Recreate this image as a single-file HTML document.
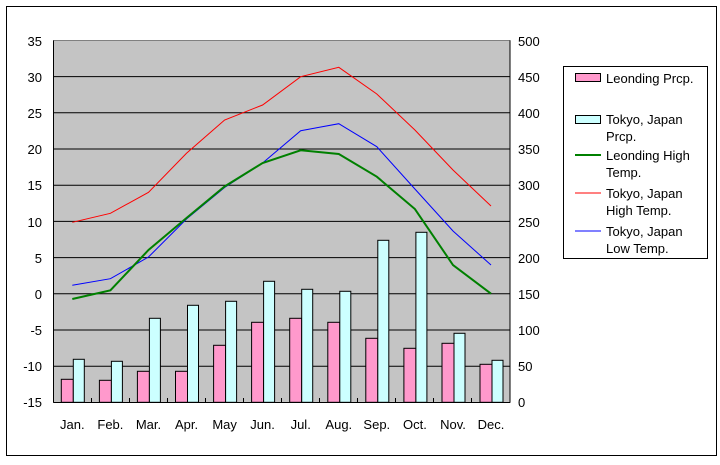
<!DOCTYPE html>
<html><head><meta charset="utf-8"><style>
body{margin:0;background:#fff;}
svg text{font-family:"Liberation Sans","Noto Sans CJK JP",sans-serif;font-size:13px;fill:#000;}
</style></head><body>
<svg width="720" height="460" viewBox="0 0 720 460" xmlns="http://www.w3.org/2000/svg">
<rect x="0" y="0" width="720" height="460" fill="#fff"/>
<rect x="6.5" y="6.5" width="710" height="449" fill="none" stroke="#000" stroke-width="1"/>
<rect x="53.5" y="40.5" width="456.5" height="362" fill="#c4c4c4" stroke="#808080"/>
<g stroke="#000" stroke-width="1">
<line x1="53.5" y1="76.6" x2="510" y2="76.6"/><line x1="53.5" y1="112.8" x2="510" y2="112.8"/>
<line x1="53.5" y1="149" x2="510" y2="149"/><line x1="53.5" y1="185.2" x2="510" y2="185.2"/>
<line x1="53.5" y1="221.4" x2="510" y2="221.4"/><line x1="53.5" y1="257.6" x2="510" y2="257.6"/>
<line x1="53.5" y1="293.8" x2="510" y2="293.8"/><line x1="53.5" y1="330" x2="510" y2="330"/>
<line x1="53.5" y1="366.2" x2="510" y2="366.2"/>
<line x1="53.5" y1="40.5" x2="53.5" y2="402.5"/><line x1="510" y1="40.5" x2="510" y2="402.5"/>
<line x1="53.5" y1="402.5" x2="510" y2="402.5"/>
<line x1="91.5" y1="398" x2="91.5" y2="402"/><line x1="129.5" y1="398" x2="129.5" y2="402"/>
<line x1="167.5" y1="398" x2="167.5" y2="402"/><line x1="205.5" y1="398" x2="205.5" y2="402"/>
<line x1="243.5" y1="398" x2="243.5" y2="402"/><line x1="281.5" y1="398" x2="281.5" y2="402"/>
<line x1="319.5" y1="398" x2="319.5" y2="402"/><line x1="357.5" y1="398" x2="357.5" y2="402"/>
<line x1="395.5" y1="398" x2="395.5" y2="402"/><line x1="433.5" y1="398" x2="433.5" y2="402"/>
<line x1="471.5" y1="398" x2="471.5" y2="402"/>
</g>
<g fill="#ff99cc" stroke="#000" stroke-width="1">
<rect x="61.3" y="379.3" width="12" height="23"/><rect x="99.4" y="380.3" width="12" height="22"/>
<rect x="137.4" y="371.3" width="12" height="31"/><rect x="175.5" y="371.3" width="12" height="31"/>
<rect x="213.6" y="345.3" width="12" height="57"/><rect x="251.6" y="322.3" width="12" height="80"/>
<rect x="289.7" y="318.3" width="12" height="84"/><rect x="327.8" y="322.3" width="12" height="80"/>
<rect x="365.8" y="338.3" width="12" height="64"/><rect x="403.9" y="348.3" width="12" height="54"/>
<rect x="442" y="343.3" width="12" height="59"/><rect x="480" y="364.3" width="12" height="38"/>
</g>
<g fill="#ccffff" stroke="#000" stroke-width="1">
<rect x="73.3" y="359.3" width="11" height="43"/><rect x="111.4" y="361.3" width="11" height="41"/>
<rect x="149.4" y="318.3" width="11" height="84"/><rect x="187.5" y="305.3" width="11" height="97"/>
<rect x="225.6" y="301.3" width="11" height="101"/><rect x="263.6" y="281.3" width="11" height="121"/>
<rect x="301.7" y="289.3" width="11" height="113"/><rect x="339.8" y="291.3" width="11" height="111"/>
<rect x="377.8" y="240.3" width="11" height="162"/><rect x="415.9" y="232.3" width="11" height="170"/>
<rect x="454" y="333.3" width="11" height="69"/><rect x="492" y="360.3" width="11" height="42"/>
</g>
<polyline fill="none" stroke="#ff0000" stroke-width="1" points="72.3,222.3 110.4,213.3 148.5,192.3 186.5,153.3 224.6,120 262.6,105 300.7,76.7 338.8,67.3 376.8,94 414.9,130 453,170 491,206"/>
<polyline fill="none" stroke="#0000ff" stroke-width="1" points="72.3,285.3 110.4,278.7 148.5,257 186.5,219 224.6,187.5 262.6,163 300.7,130.7 338.8,123.7 376.8,146.7 414.9,189 453,231 491,265"/>
<polyline fill="none" stroke="#008000" stroke-width="2" points="72.3,299 110.4,290.3 148.5,250 186.5,218 224.6,186.5 262.6,163 300.7,150.3 338.8,154 376.8,176.7 414.9,209 453,265 491,293.7"/>
<g text-anchor="end">
<text x="42" y="46">35</text><text x="42" y="82">30</text><text x="42" y="118">25</text><text x="42" y="154">20</text>
<text x="42" y="190">15</text><text x="42" y="227">10</text><text x="42" y="263">5</text><text x="42" y="299">0</text>
<text x="42" y="335">-5</text><text x="42" y="371">-10</text><text x="42" y="407">-15</text>
</g>
<g>
<text x="518" y="46">500</text><text x="518" y="82">450</text><text x="518" y="118">400</text><text x="518" y="154">350</text>
<text x="518" y="190">300</text><text x="518" y="227">250</text><text x="518" y="263">200</text><text x="518" y="299">150</text>
<text x="518" y="335">100</text><text x="518" y="371">50</text><text x="518" y="407">0</text>
</g>
<g text-anchor="middle">
<text x="72.3" y="429">Jan.</text><text x="110.4" y="429">Feb.</text><text x="148.5" y="429">Mar.</text><text x="186.5" y="429">Apr.</text>
<text x="224.6" y="429">May</text><text x="262.6" y="429">Jun.</text><text x="300.7" y="429">Jul.</text><text x="338.8" y="429">Aug.</text>
<text x="376.8" y="429">Sep.</text><text x="414.9" y="429">Oct.</text><text x="453" y="429">Nov.</text><text x="491" y="429">Dec.</text>
</g>
<rect x="563.5" y="66.5" width="144" height="192" fill="#fff" stroke="#000"/>
<rect x="575.5" y="73.5" width="25" height="8" fill="#ff99cc" stroke="#000"/>
<text x="606" y="83">Leonding Prcp.</text>
<rect x="575.5" y="115.5" width="25" height="8" fill="#ccffff" stroke="#000"/>
<text x="606" y="124">Tokyo, Japan</text><text x="606" y="141">Prcp.</text>
<line x1="575" y1="155" x2="601" y2="155" stroke="#008000" stroke-width="2"/>
<text x="606" y="160">Leonding High</text><text x="606" y="177">Temp.</text>
<line x1="575" y1="193" x2="601" y2="193" stroke="#ff0000"/>
<text x="606" y="198">Tokyo, Japan</text><text x="606" y="215">High Temp.</text>
<line x1="575" y1="231" x2="601" y2="231" stroke="#0000ff"/>
<text x="606" y="236">Tokyo, Japan</text><text x="606" y="253">Low Temp.</text>
</svg>
</body></html>
